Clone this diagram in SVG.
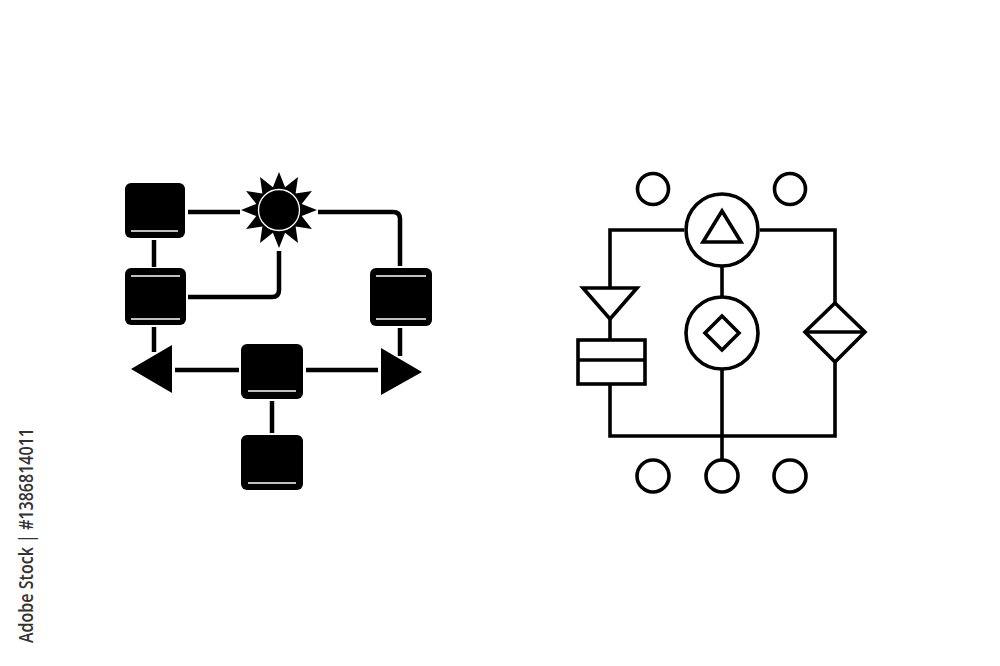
<svg xmlns="http://www.w3.org/2000/svg" width="1000" height="666" viewBox="0 0 1000 666">
<style>
.sq{fill:#000;}
.wl{stroke:#fff;stroke-width:1.6;fill:none;}
.c1{stroke:#000;stroke-width:4.5;fill:none;}
.o{stroke:#000;stroke-width:3.6;fill:none;stroke-linejoin:miter;}
.id{font-family:"Open Sans","Liberation Sans",sans-serif;font-weight:600;font-size:20px;fill:#333;}
</style>
<rect width="1000" height="666" fill="#fff"/>
<g id="connectors-left">
<path class="c1" d="M188 212 H240"/>
<path class="c1" d="M154 240 V267"/>
<path class="c1" d="M279 251 V290 Q279 297 272 297 H188"/>
<path class="c1" d="M318 212 H393 Q400 212 400 219 V266"/>
<path class="c1" d="M400 328 V356"/>
<path class="c1" d="M154 327 V352"/>
<path class="c1" d="M175 370 H239"/>
<path class="c1" d="M306 370 H378"/>
<path class="c1" d="M272 401 V433"/>
</g>
<g id="sq-a"><rect class="sq" x="125" y="183" width="60" height="55" rx="6"/><path class="wl" d="M131 231 H178"/></g>
<g id="sq-b"><rect class="sq" x="125" y="268" width="61" height="57" rx="6"/><path class="wl" d="M131 276 H180 M131 319 H180"/></g>
<g id="sun">
<polygon fill="#000" points="279,172 285.08,187.3 298,177.09 295.62,193.38 311.91,191 301.7,203.92 317,210 301.7,216.08 311.91,229 295.62,226.62 298,242.91 285.08,232.7 279,248 272.92,232.7 260,242.91 262.38,226.62 246.09,229 256.3,216.08 241,210 256.3,203.92 246.09,191 262.38,193.38 260,177.09 272.92,187.3"/>
<circle cx="279" cy="210" r="20.5" fill="#000" stroke="#fff" stroke-width="1.3"/>
</g>
<g id="sq-c"><rect class="sq" x="370" y="268" width="62" height="58" rx="6"/><path class="wl" d="M376 276 H426 M376 319 H426"/></g>
<g id="tri-left"><polygon fill="#000" points="172,345 172,393 131,369"/></g>
<g id="tri-right"><polygon fill="#000" points="381,348 381,395 422,372"/></g>
<g id="sq-d"><rect class="sq" x="241" y="344" width="62" height="55" rx="6"/><path class="wl" d="M248 391 H296"/></g>
<g id="sq-e"><rect class="sq" x="241" y="435" width="62" height="55" rx="6"/><path class="wl" d="M248 483 H296"/></g>

<g id="connectors-right">
<path class="o" d="M684 230 H610 V288"/>
<path class="o" d="M760 230 H835 V303"/>
<path class="o" d="M610 319 V340"/>
<path class="o" d="M610 383 V436 H835 V362"/>
<path class="o" d="M722 266 V297"/>
<path class="o" d="M722 369 V459"/>
</g>
<g id="circle-tl"><circle class="o" cx="653" cy="189" r="15.5"/></g>
<g id="circle-tr"><circle class="o" cx="790" cy="189" r="15.5"/></g>
<g id="circle-top"><circle class="o" cx="722" cy="230" r="36"/><polygon class="o" points="722,211 741,242 703,242"/></g>
<g id="circle-mid"><circle class="o" cx="722" cy="333" r="36"/><polygon class="o" points="722,316 739,333 722,350 705,333"/></g>
<g id="funnel"><polygon class="o" points="583,288 637,288 610,319"/></g>
<g id="rect"><rect class="o" x="578" y="340" width="67" height="44"/><path class="o" d="M578 360 H645"/></g>
<g id="diamond-right"><polygon class="o" points="835,303 865,332 835,362 805,332"/><path class="o" d="M805 332 H865"/></g>
<g id="circle-bl"><circle class="o" cx="653" cy="476" r="16"/></g>
<g id="circle-bm"><circle class="o" cx="722" cy="476" r="16"/></g>
<g id="circle-br"><circle class="o" cx="790" cy="476" r="16"/></g>

<text class="id" transform="translate(33,643) rotate(-90)" textLength="215" lengthAdjust="spacingAndGlyphs">Adobe Stock | #1386814011</text>
</svg>
